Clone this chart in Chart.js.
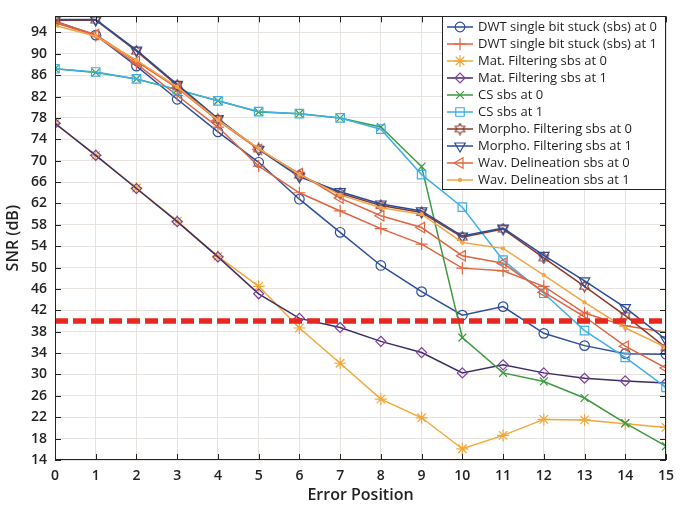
<!DOCTYPE html>
<html>
<head>
<meta charset="utf-8">
<script src="https://cdn.jsdelivr.net/npm/chart.js@4.4.1/dist/chart.umd.min.js"></script>
<style>
  body { margin: 0; background: #fff; }
  canvas { display: block; }
</style>
</head>
<body>
<canvas id="snr" width="683" height="506"></canvas>
<script>
// error position (bit index) on the x axis
const errorPositions = [0, 1, 2, 3, 4, 5, 6, 7, 8, 9, 10, 11, 12, 13, 14, 15];
const yTicks = [14, 18, 22, 26, 30, 34, 38, 42, 46, 50, 54, 58, 62, 66, 70, 74, 78, 82, 86, 90, 94];
const threshold = 40;

// SNR (dB)
const dwt0 = [96.1, 93.5, 87.7, 81.5, 75.4, 69.7, 62.8, 56.6, 50.4, 45.5, 41.1, 42.7, 37.7, 35.4, 33.9, 33.8];
const dwt1 = [95.8, 93.4, 88.1, 82.2, 76.3, 69.0, 64.0, 60.6, 57.3, 54.4, 49.9, 49.4, 46.5, 41.5, 39.1, 37.9];
const mat0 = [77.0, 71.0, 64.9, 58.7, 52.1, 46.5, 38.7, 32.1, 25.4, 21.9, 16.1, 18.6, 21.6, 21.5, 20.8, 20.1];
const mat1 = [77.0, 71.0, 64.8, 58.6, 52.0, 45.1, 40.5, 38.8, 36.2, 34.1, 30.3, 31.8, 30.3, 29.3, 28.8, 28.4];
const cs0 = [87.2, 86.5, 85.3, 83.3, 81.2, 79.1, 78.8, 78.0, 76.3, 68.9, 36.9, 30.3, 28.7, 25.6, 20.9, 16.6];
const cs1 = [87.2, 86.6, 85.3, 83.3, 81.2, 79.2, 78.8, 78.0, 75.9, 67.4, 61.3, 51.4, 45.2, 38.2, 33.2, 27.6];
const morpho0 = [96.3, 96.3, 90.5, 84.1, 77.7, 72.2, 67.3, 63.9, 61.6, 60.3, 55.7, 57.2, 51.8, 46.5, 41.0, 35.0];
const morpho1 = [96.4, 96.4, 90.7, 84.3, 77.9, 72.1, 67.0, 64.2, 61.9, 60.6, 55.9, 57.4, 52.3, 47.5, 42.5, 36.5];
const wav0 = [96.0, 93.6, 88.6, 83.6, 77.5, 72.1, 67.6, 63.0, 59.7, 57.5, 52.2, 50.8, 45.4, 40.8, 35.3, 31.2];
const wav1 = [95.3, 93.3, 88.8, 83.8, 77.6, 72.3, 67.4, 63.6, 61.2, 60.0, 54.7, 53.6, 48.6, 43.5, 38.7, 35.1];

const FONT = "'Open Sans', 'DejaVu Sans', sans-serif";

// six-pointed star marker (matlab 'hexagram')
function hexagram(color, size) {
    const c = document.createElement("canvas");
    c.width = size;
    c.height = size;
    const g = c.getContext("2d");
    const cx = size / 2, cy = size / 2, r = size / 2 - 1, ri = r * 0.58;
    g.strokeStyle = color;
    g.lineWidth = 1.2;
    g.beginPath();
    for (let k = 0; k < 12; k++) {
        const a = (-90 + k * 30) * Math.PI / 180;
        const rr = k % 2 ? ri : r;
        const px = cx + rr * Math.cos(a), py = cy + rr * Math.sin(a);
        if (k) g.lineTo(px, py); else g.moveTo(px, py);
    }
    g.closePath();
    g.stroke();
    return c;
}

function series(label, values, color, style, extra) {
    return Object.assign({
        label: label,
        data: values.map((v, i) => ({ x: errorPositions[i], y: v })),
        borderColor: color,
        backgroundColor: color,
        pointBorderColor: color,
        pointBackgroundColor: "rgba(0,0,0,0)",
        pointStyle: style,
        pointRadius: 5,
        pointBorderWidth: 1.2,
        borderWidth: 1.5,
        tension: 0,
    }, extra || {});
}

const datasets = [
    series("DWT single bit stuck (sbs) at 0", dwt0, "#2d4e9c", "circle", { pointRadius: 4.8 }),
    series("DWT single bit stuck (sbs) at 1", dwt1, "#e0643f", "cross", { pointRadius: 6 }),
    series("Mat. Filtering sbs at 0", mat0, "#efa83a", "star", { pointRadius: 6 }),
    series("Mat. Filtering sbs at 1", mat1, "#3d2c66", "rectRot", { pointBorderColor: "#7b3f9a" }),
    series("CS sbs at 0", cs0, "#3d9a40", "crossRot", { pointRadius: 5.5 }),
    series("CS sbs at 1", cs1, "#3fb0e8", "rect", { pointRadius: 6 }),
    series("Morpho. Filtering sbs at 0", morpho0, "#8a3a2c", hexagram("#8a3a2c", 13)),
    series("Morpho. Filtering sbs at 1", morpho1, "#2b4b98", "triangle", { rotation: 180, pointRadius: 6 }),
    series("Wav. Delineation sbs at 0", wav0, "#e0643f", "triangle", { rotation: -90, pointRadius: 6 }),
    series("Wav. Delineation sbs at 1", wav1, "#f2a646", "circle", { pointRadius: 1.6, pointBackgroundColor: "#f2a646" }),
];
// later series on top, like matlab
datasets.forEach((d, i) => { d.order = 20 - i; });

datasets.push({
    label: "threshold",
    data: [{ x: errorPositions[0], y: threshold }, { x: errorPositions[errorPositions.length - 1], y: threshold }],
    borderColor: "#e8281f",
    borderWidth: 5.5,
    borderDash: [13, 5],
    pointRadius: 0,
    order: -1,
});

// inner tick marks and box, matlab style
const framePlugin = {
    id: "frame",
    afterDatasetsDraw(chart) {
        const { ctx, chartArea: a, scales } = chart;
        const x = scales.x, y = scales.y;
        ctx.save();
        ctx.strokeStyle = "#222";
        ctx.lineWidth = 1;
        ctx.beginPath();
        errorPositions.forEach(v => {
            const px = Math.round(x.getPixelForValue(v)) + 0.5;
            ctx.moveTo(px, a.bottom);
            ctx.lineTo(px, a.bottom - 6);
            ctx.moveTo(px, a.top);
            ctx.lineTo(px, a.top + 6);
        });
        yTicks.forEach(v => {
            const py = Math.round(y.getPixelForValue(v)) + 0.5;
            ctx.moveTo(a.left, py);
            ctx.lineTo(a.left + 6, py);
            ctx.moveTo(a.right, py);
            ctx.lineTo(a.right - 6, py);
        });
        ctx.stroke();
        ctx.strokeRect(Math.round(a.left) + 0.5, Math.round(a.top) + 0.5, Math.round(a.width) - 1, Math.round(a.height) - 1);
        ctx.restore();
    },
};

// legend box in the upper right corner
const legendPlugin = {
    id: "boxLegend",
    afterDraw(chart) {
        const { ctx, chartArea: a } = chart;
        const boxW = 224, boxH = 174;
        const bx = Math.round(a.right) - boxW, by = Math.round(a.top);
        ctx.save();
        ctx.fillStyle = "#fff";
        ctx.fillRect(bx, by, boxW, boxH);
        ctx.strokeStyle = "#222";
        ctx.lineWidth = 1;
        ctx.strokeRect(bx + 0.5, by + 0.5, boxW - 1, boxH - 1);
        ctx.font = "13px " + FONT;
        ctx.textBaseline = "middle";
        const items = chart.data.datasets.filter(d => d.label !== "threshold");
        items.forEach((d, i) => {
            const cy = by + 11 + i * 17;
            ctx.strokeStyle = d.borderColor;
            ctx.lineWidth = 1.5;
            ctx.beginPath();
            ctx.moveTo(bx + 5, cy);
            ctx.lineTo(bx + 31, cy);
            ctx.stroke();
            ctx.strokeStyle = d.pointBorderColor;
            ctx.fillStyle = d.pointBackgroundColor;
            ctx.lineWidth = d.pointBorderWidth;
            Chart.helpers.drawPoint(ctx, {
                pointStyle: d.pointStyle,
                rotation: d.rotation || 0,
                radius: d.pointRadius,
                borderWidth: d.pointBorderWidth,
            }, bx + 18, cy);
            ctx.fillStyle = "#1e1e1e";
            ctx.fillText(d.label, bx + 36, cy + 0.5);
        });
        ctx.restore();
    },
};

const tickFont = { family: FONT, size: 14, weight: "600" };
const titleFont = { family: FONT, size: 16, weight: "600" };

const snrChart = new Chart(document.getElementById("snr"), {
    type: "line",
    data: { datasets: datasets },
    options: {
        responsive: false,
        animation: false,
        layout: { padding: { left: 0, top: 6, right: 17, bottom: 0 } },
        plugins: {
            legend: { display: false },
            tooltip: { enabled: false },
        },
        scales: {
            x: {
                type: "linear",
                min: 0,
                max: 15,
                ticks: { stepSize: 1, color: "#222", font: tickFont, padding: 8, maxRotation: 0 },
                grid: { color: "#e8e2de", drawTicks: false },
                border: { display: false },
                title: { display: true, text: "Error Position", color: "#222", font: titleFont, padding: { top: 0, bottom: 1 } },
                afterFit(scale) { scale.height = 46; },
            },
            y: {
                type: "linear",
                min: 14,
                max: 97,
                ticks: { stepSize: 4, color: "#222", font: tickFont, padding: 8 },
                afterBuildTicks(scale) { scale.ticks = yTicks.map(v => ({ value: v })); },
                grid: { color: "#e8e2de", drawTicks: false },
                border: { display: false },
                title: { display: true, text: "SNR (dB)", color: "#222", font: titleFont, padding: { top: 4, bottom: 0 } },
                afterFit(scale) { scale.width = 55; },
            },
        },
    },
    plugins: [framePlugin, legendPlugin],
});
</script>
</body>
</html>
